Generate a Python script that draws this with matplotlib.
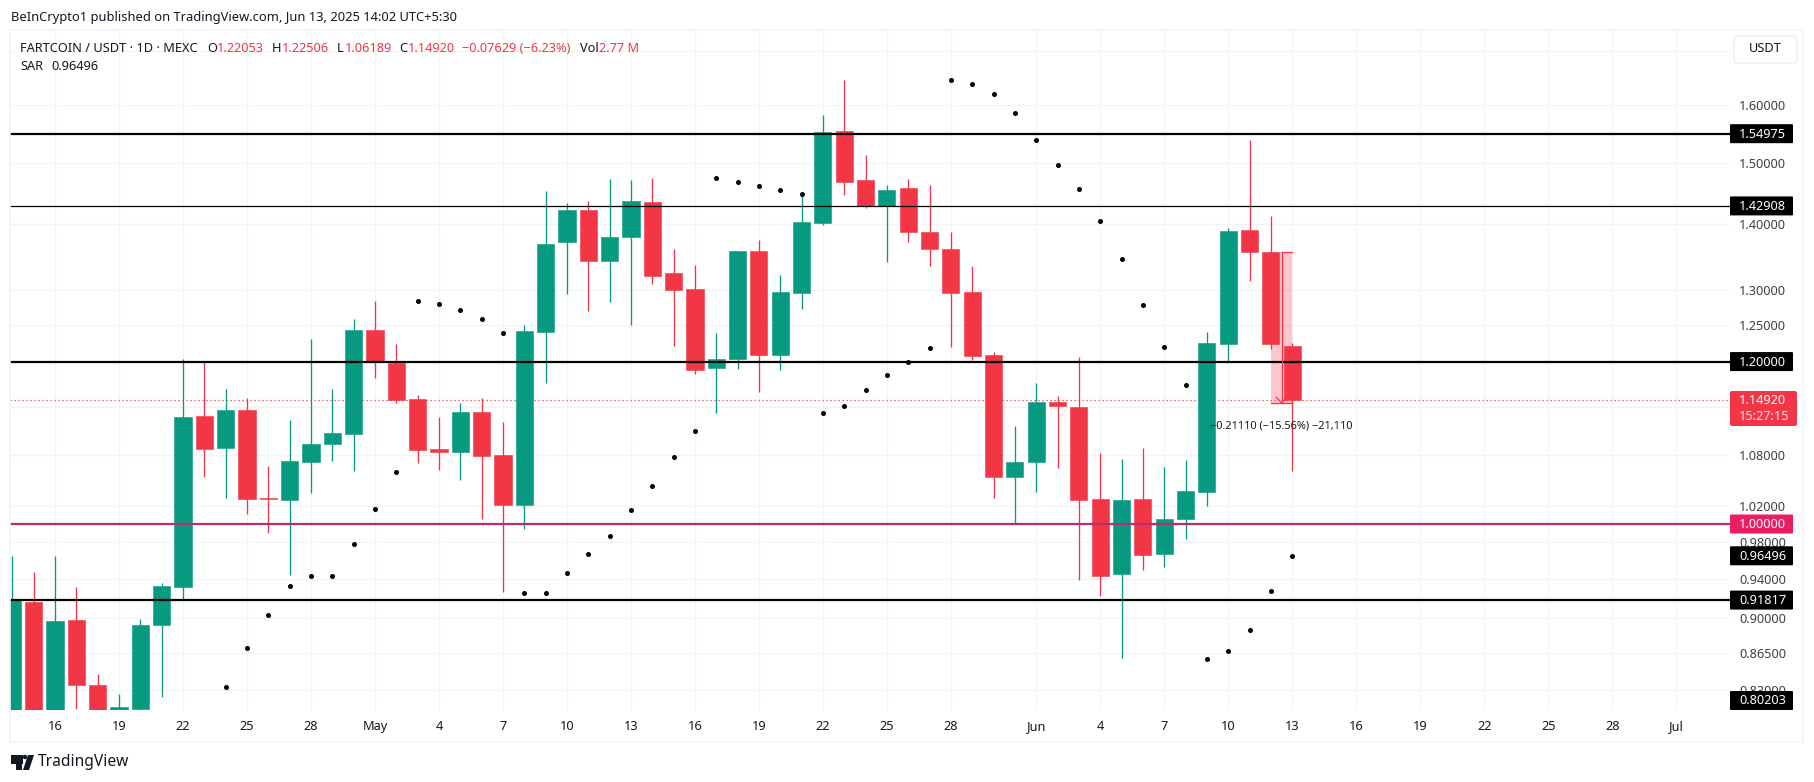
import pandas as pd
import matplotlib
matplotlib.use('Agg')
import matplotlib.pyplot as plt
import matplotlib.dates as mdates
from matplotlib.patches import Rectangle, FancyBboxPatch, Polygon, Circle
from matplotlib.transforms import IdentityTransform

plt.rcParams['font.family'] = ['Noto Sans', 'DejaVu Sans']

# daily candles, first one is Apr 14 2025
start_date = '2025-04-14'
opens = [0.80, 0.9167, 0.80, 0.8974, 0.8344, 0.80, 0.8129, 0.8926, 0.9315, 1.1289, 1.0888, 1.1363, 1.0294, 1.0271,
         1.0719, 1.0938, 1.1064, 1.2433, 1.1986, 1.1507, 1.0875, 1.0842, 1.1341, 1.0805, 1.0212, 1.2411, 1.3729,
         1.4231, 1.3440, 1.3806, 1.4359, 1.3260, 1.3024, 1.1920, 1.2040, 1.3591, 1.2095, 1.2966, 1.4025, 1.5550,
         1.4718, 1.4290, 1.4587, 1.3884, 1.3622, 1.2980, 1.2095, 1.0538, 1.0717, 1.1465, 1.1401, 1.0283, 0.9452,
         1.0283, 0.9674, 1.0052, 1.0363, 1.2239, 1.3912, 1.3570, 1.22053]
highs = [0.9644, 0.948, 0.9644, 0.9315, 0.8455, 0.8267, 0.8984, 0.9362, 1.2032, 1.1991, 1.1635, 1.152, 1.067, 1.1238,
         1.231, 1.1635, 1.259, 1.2847, 1.224, 1.156, 1.1277, 1.1454, 1.152, 1.1212, 1.2499, 1.4538, 1.4338,
         1.4375, 1.4735, 1.4713, 1.4752, 1.3622, 1.3380, 1.2397, 1.3591, 1.3760, 1.3230, 1.4473, 1.5832, 1.6465,
         1.5137, 1.4636, 1.4735, 1.4636, 1.3884, 1.3365, 1.2135, 1.1159, 1.1714, 1.1545, 1.2061, 1.0828, 1.0754,
         1.0888, 1.0657, 1.0740, 1.2404, 1.3948, 1.5390, 1.4130, 1.22506]
lows = [0.79, 0.79, 0.79, 0.8129, 0.79, 0.79, 0.80, 0.8232, 0.918, 1.054, 1.0294, 1.0111, 0.990, 0.944,
        1.0353, 1.0731, 1.0613, 1.1782, 1.1459, 1.0706, 1.0625, 1.0504, 1.0053, 0.9262, 0.9943, 1.1712, 1.2951,
        1.2707, 1.2836, 1.2509, 1.3097, 1.2217, 1.1840, 1.1333, 1.1906, 1.1603, 1.1893, 1.2735, 1.3994, 1.4473,
        1.4263, 1.3425, 1.3729, 1.3365, 1.2204, 1.2027, 1.030, 1.0013, 1.0363, 1.0648, 0.9396, 0.9220, 0.8600,
        0.9493, 0.9530, 0.9829, 1.0200, 1.2005, 1.3133, 1.2171, 1.06189]
closes = [0.918, 0.80, 0.8967, 0.8346, 0.80, 0.8139, 0.8926, 0.9326, 1.1277, 1.0875, 1.1363, 1.0282, 1.0282, 1.0731,
          1.0938, 1.1076, 1.2433, 1.2009, 1.1494, 1.0867, 1.0842, 1.1341, 1.0793, 1.0212, 1.2419, 1.3699, 1.4231,
          1.3440, 1.3806, 1.4375, 1.3216, 1.3010, 1.1893, 1.2040, 1.3591, 1.2095, 1.2980, 1.4041, 1.5532, 1.4685,
          1.4290, 1.4554, 1.3884, 1.3622, 1.2966, 1.2081, 1.0538, 1.0717, 1.1465, 1.1421, 1.0270, 0.9428, 1.0270,
          0.9654, 1.0052, 1.0372, 1.2250, 1.3895, 1.3570, 1.2239, 1.14920]

# parabolic SAR dots, first one is Apr 24
sar_start = '2025-04-24'
sar_values = [0.8330, 0.8704, 0.9032, 0.9333, 0.9437, 0.9437, 0.9781, 1.0173, 1.0597, 1.2843, 1.2799, 1.2711, 1.2586,
              1.2386, 0.9258, 0.9258, 0.9469, 0.9674, 0.9870, 1.0158, 1.0432, 1.0781, 1.1098, 1.4746, 1.4680, 1.4614,
              1.4548, 1.4483, 1.1328, 1.1413, 1.1624, 1.1822, 1.1996, 1.2185, 1.6460, 1.6386, 1.6203, 1.5861, 1.5386,
              1.4962, 1.4563, 1.4048, 1.3459, 1.2783, 1.2192, 1.1694, 0.8596, 0.8673, 0.8881, 0.9279, 0.96496]

# horizontal levels drawn on the chart
level_prices = [1.54975, 1.42908, 1.20000, 1.00000, 0.91817]
level_widths = [1.6, 0.9, 1.6, 1.6, 1.6]
level_colors = ['black', 'black', 'black', '#b5306c', 'black']

price_ticks = [1.7, 1.6, 1.5, 1.4, 1.3, 1.25, 1.2, 1.14, 1.08, 1.02, 1.0, 0.98, 0.94, 0.9, 0.865, 0.83]
price_labels = ['', '1.60000', '1.50000', '1.40000', '1.30000', '1.25000', '', '', '1.08000', '1.02000', '',
                '0.98000', '0.94000', '0.90000', '0.86500', '0.83000']

tick_dates = ['2025-04-16', '2025-04-19', '2025-04-22', '2025-04-25', '2025-04-28', '2025-05-01', '2025-05-04',
              '2025-05-07', '2025-05-10', '2025-05-13', '2025-05-16', '2025-05-19', '2025-05-22', '2025-05-25',
              '2025-05-28', '2025-06-01', '2025-06-04', '2025-06-07', '2025-06-10', '2025-06-13', '2025-06-16',
              '2025-06-19', '2025-06-22', '2025-06-25', '2025-06-28', '2025-07-01']
tick_labels = ['16', '19', '22', '25', '28', 'May', '4', '7', '10', '13', '16', '19', '22', '25', '28', 'Jun', '4',
               '7', '10', '13', '16', '19', '22', '25', '28', 'Jul']

last_close = 1.14920
sar_last = 0.96496
low_label = 0.80203
measure_top = 1.3570
measure_bottom = 1.1459

GREEN = '#089981'
RED = '#f23645'
TEXT = '#131722'
GRID = '#f2f3f6'
W, H = 1814, 782


def px_rect(x0, y0, x1, y1):
    # pixel box with y counted from the top
    return [x0 / W, 1 - y1 / H, (x1 - x0) / W, (y1 - y0) / H]


fig = plt.figure(figsize=(W / 100, H / 100), dpi=100, facecolor='white')
ax = fig.add_axes(px_rect(10, 30, 1730, 710))

days = mdates.date2num(pd.date_range(start_date, periods=len(opens)))
sar_days = mdates.date2num(pd.date_range(sar_start, periods=len(sar_values)))
tick_pos = mdates.date2num(pd.to_datetime(tick_dates))

ax.set_yscale('log')
ax.set_xlim(tick_pos[0] - 2.11, tick_pos[0] + 78.52)
ax.set_ylim(0.8116, 1.741)

ax.set_xticks(tick_pos)
ax.set_xticklabels(tick_labels, fontsize=9.2, color=TEXT)
for lab in ax.get_xticklabels():
    lab.set_verticalalignment('center')
    if lab.get_text() in ('May', 'Jun'):
        lab.set_fontweight('bold')
ax.yaxis.tick_right()
ax.set_yticks(price_ticks)
ax.set_yticklabels(price_labels, fontsize=9.2, color='#3c4049')
ax.minorticks_off()
ax.tick_params(axis='both', which='both', length=0)
ax.tick_params(axis='x', pad=12)
ax.tick_params(axis='y', pad=6.5)
ax.grid(True, color=GRID, linewidth=0.9)
ax.set_axisbelow(True)
for s in ax.spines.values():
    s.set_visible(False)

# last price dotted line
ax.axhline(last_close, color=RED, linewidth=0.9, linestyle=(0, (1, 2.2)), zorder=1.5)

# measure tool shading sits behind the candles
ax.fill_between([days[-2], days[-1]], measure_bottom, measure_top, color=RED, alpha=0.28, linewidth=0, zorder=1.6)

colors = [GREEN if c >= o else RED for o, c in zip(opens, closes)]
ax.vlines(days, lows, highs, colors=colors, linewidth=0.95, zorder=2)
bottoms = [min(o, c) for o, c in zip(opens, closes)]
heights = [abs(c - o) for o, c in zip(opens, closes)]
ax.bar(days, heights, width=0.8, bottom=bottoms, color=colors, edgecolor=colors, linewidth=0.4, zorder=3)

ax.scatter(sar_days, sar_values, s=13, color='black', linewidths=0, zorder=4)

for p, w, c in zip(level_prices, level_widths, level_colors):
    ax.axhline(p, color=c, linewidth=w, zorder=5)

# measure tool lines and arrow
mid = (days[-2] + days[-1]) / 2
ax.plot([days[-2], days[-1]], [measure_bottom, measure_bottom], color=RED, linewidth=0.9, zorder=6)
ax.plot([mid, days[-1]], [measure_top, measure_top], color=RED, linewidth=0.9, zorder=6)
ax.plot([mid, mid], [measure_top, measure_bottom], color=RED, linewidth=0.9, zorder=6)
ax.plot([mid - 0.25, mid, mid + 0.25], [measure_bottom * 1.006, measure_bottom, measure_bottom * 1.006],
        color=RED, linewidth=0.9, zorder=6)
ax.text(mid, 1.116, '\u22120.21110 (\u221215.56%) \u221221,110', fontsize=7.9, color=TEXT, ha='center', va='center',
        zorder=7)

fig.canvas.draw()
ident = IdentityTransform()


def price_y(price):
    return ax.transData.transform((days[0], price))[1]


def add_box(x0, y0, x1, y1, color, edge='none', rounding=2):
    # y values here are display pixels, counted from the bottom
    fig.add_artist(FancyBboxPatch((x0 + rounding, y0 + rounding), x1 - x0 - 2 * rounding, y1 - y0 - 2 * rounding,
                                  boxstyle='round,pad=%d,rounding_size=%d' % (rounding, rounding),
                                  facecolor=color, edgecolor=edge, linewidth=0.8, transform=ident, zorder=10))


def price_tag(price, text, color):
    yc = max(price_y(price), H - 710 + 9.5)
    add_box(1730, yc - 9.5, 1793, yc + 9.5, color, rounding=1)
    fig.text(1739, yc - 0.5, text, transform=ident, fontsize=9.2, fontweight='bold', color='white', va='center',
             ha='left', zorder=11)


# outer frame of the chart
fig.add_artist(Rectangle((10, H - 742), 1793, 712, fill=False, edgecolor='#f0f3fa', linewidth=1.2, transform=ident))

for p, c in zip([1.54975, 1.42908, 1.20000, 1.00000, sar_last, 0.91817, low_label],
                ['black', 'black', 'black', '#e91e63', 'black', 'black', 'black']):
    price_tag(p, '%.5f' % p, c)

# last price tag with countdown
add_box(1730, H - 426, 1797, H - 391, RED)
fig.text(1739, H - 400, '1.14920', transform=ident, fontsize=9.2, fontweight='bold', color='white', va='center',
         zorder=11)
fig.text(1739, H - 417, '15:27:15', transform=ident, fontsize=9.2, color='#fde0e3', va='center', zorder=11)

# currency button
add_box(1734, H - 63, 1797, H - 36, 'white', edge='#e8eaf0', rounding=4)
fig.text(1765, H - 49, 'USDT', transform=ident, fontsize=9.2, color=TEXT, ha='center', va='center', zorder=11)

# header text
fig.text(11, H - 17, 'BeInCrypto1 published on TradingView.com, Jun 13, 2025 14:02 UTC+5:30', transform=ident,
         fontsize=9.3, color=TEXT, va='center')

legend_parts = [('FARTCOIN / USDT \u00b7 1D \u00b7 MEXC', TEXT, 20), ('O', TEXT, 207), ('1.22053', RED, 217),
                ('H', TEXT, 272), ('1.22506', RED, 282), ('L', TEXT, 337), ('1.06189', RED, 345), ('C', TEXT, 399),
                ('1.14920', RED, 408), ('\u22120.07629 (\u22126.23%)', RED, 462), ('Vol', TEXT, 580),
                ('2.77 M', RED, 599)]
for part, col, xpos in legend_parts:
    fig.text(xpos, H - 48, part, transform=ident, fontsize=9.2, color=col, va='center')
fig.text(20, H - 67, 'SAR', transform=ident, fontsize=9.2, color=TEXT, va='center')
fig.text(51, H - 67, '0.96496', transform=ident, fontsize=9.2, color=TEXT, va='center')

# TradingView mark
logo = '#131722'
fig.add_artist(Rectangle((11, H - 764), 12, 9, facecolor=logo, edgecolor='none', transform=ident))
fig.add_artist(Rectangle((16, H - 770), 6, 7, facecolor=logo, edgecolor='none', transform=ident))
fig.add_artist(Circle((25, H - 757), 2.2, facecolor=logo, edgecolor='none', transform=ident))
fig.add_artist(Polygon([(28, H - 755), (34, H - 755), (29, H - 770), (23, H - 770)], closed=True, facecolor=logo,
                       edgecolor='none', transform=ident))
fig.text(38, H - 762, 'TradingView', transform=ident, fontsize=11.2, color=TEXT, va='center')

fig.savefig('out.png', dpi=100)
